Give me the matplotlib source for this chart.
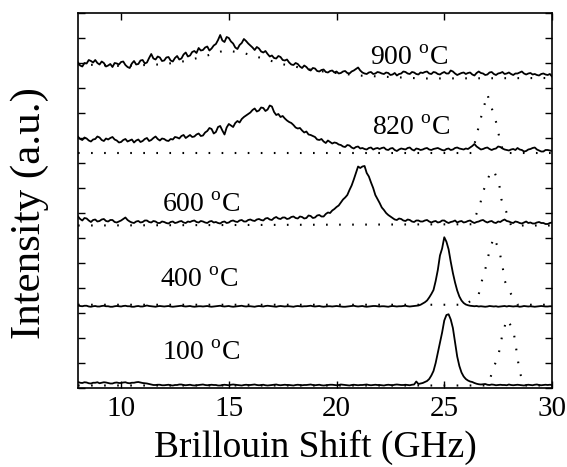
import numpy as np
import matplotlib
matplotlib.use("Agg")
import matplotlib.pyplot as plt

plt.rcParams['font.family'] = ['Liberation Serif', 'DejaVu Serif']
plt.rcParams['mathtext.fontset'] = 'custom'
plt.rcParams['mathtext.rm'] = 'Liberation Serif'
plt.rcParams['lines.scale_dashes'] = False

# Brillouin shift grid (GHz) for the measured spectra
shift = np.round(np.arange(8.0, 30.001, 0.1), 1)

# measured spectra (solid), already offset vertically
s900 = [13.02, 12.90, 12.86, 13.00, 12.98, 13.12, 13.08, 13.02, 13.12, 13.00, 12.94, 13.06, 13.00, 12.86, 12.90, 12.96, 12.84, 13.00, 12.98, 12.94,
        13.04, 13.06, 12.92, 12.84, 12.80, 12.98, 13.08, 12.94, 12.96, 13.10, 13.12, 12.98, 13.02, 13.20, 13.36, 13.18, 13.14, 13.26, 13.22, 13.08,
        13.10, 13.22, 13.24, 13.10, 13.06, 13.20, 13.28, 13.14, 13.18, 13.34, 13.42, 13.26, 13.30, 13.44, 13.48, 13.40, 13.60, 13.50, 13.52, 13.62,
        13.66, 13.50, 13.58, 13.70, 13.76, 13.92, 14.12, 13.90, 13.84, 14.04, 14.00, 13.86, 13.78, 13.62, 13.56, 13.72, 13.80, 13.96, 13.88, 13.78,
        13.70, 13.62, 13.52, 13.64, 13.58, 13.46, 13.42, 13.48, 13.36, 13.26, 13.30, 13.20, 13.18, 13.28, 13.24, 13.12, 13.10, 13.14, 13.02, 12.94,
        12.92, 13.00, 12.96, 12.86, 12.80, 12.90, 12.84, 12.74, 12.70, 12.80, 12.78, 12.68, 12.66, 12.72, 12.74, 12.64, 12.62, 12.68, 12.70, 12.62,
        12.66, 12.58, 12.60, 12.66, 12.68, 12.60, 12.58, 12.66, 12.70, 12.76, 12.82, 12.70, 12.62, 12.58, 12.56, 12.62, 12.64, 12.56, 12.58, 12.64,
        12.62, 12.58, 12.56, 12.62, 12.60, 12.52, 12.54, 12.60, 12.50, 12.56, 12.58, 12.66, 12.64, 12.58, 12.56, 12.64, 12.62, 12.56, 12.54, 12.62,
        12.60, 12.64, 12.66, 12.58, 12.56, 12.64, 12.62, 12.56, 12.54, 12.60, 12.64, 12.58, 12.58, 12.70, 12.66, 12.58, 12.52, 12.56, 12.60, 12.62,
        12.56, 12.60, 12.62, 12.54, 12.50, 12.60, 12.66, 12.60, 12.58, 12.52, 12.54, 12.62, 12.64, 12.56, 12.52, 12.58, 12.60, 12.64, 12.56, 12.58,
        12.62, 12.56, 12.52, 12.58, 12.58, 12.62, 12.66, 12.58, 12.54, 12.58, 12.60, 12.54, 12.56, 12.52, 12.50, 12.56, 12.58, 12.54, 12.52, 12.56,
        12.46]
s820 = [10.05, 9.96, 9.92, 10.02, 9.98, 9.90, 9.86, 9.94, 9.96, 10.06, 10.02, 9.92, 9.88, 9.98, 9.94, 10.00, 10.04, 9.94, 9.90, 9.82,
        9.84, 9.92, 9.96, 9.86, 9.90, 9.94, 9.82, 9.90, 9.94, 9.84, 9.88, 9.96, 10.00, 9.88, 9.92, 10.00, 10.06, 9.96, 9.90, 9.98,
        9.96, 9.90, 9.88, 9.96, 9.94, 10.04, 10.02, 9.98, 10.08, 10.12, 10.00, 10.06, 10.12, 10.04, 10.06, 10.14, 10.18, 10.08, 10.10, 10.22,
        10.28, 10.40, 10.36, 10.18, 10.24, 10.44, 10.48, 10.30, 10.14, 10.42, 10.56, 10.50, 10.44, 10.60, 10.68, 10.62, 10.76, 10.84, 10.90, 10.96,
        11.02, 11.12, 11.18, 11.06, 11.10, 11.22, 11.20, 11.08, 11.14, 11.30, 11.26, 11.04, 10.92, 10.96, 10.84, 10.88, 10.78, 10.70, 10.64, 10.60,
        10.52, 10.42, 10.38, 10.40, 10.30, 10.22, 10.26, 10.14, 10.12, 10.08, 10.04, 9.94, 9.92, 9.96, 9.86, 9.80, 9.90, 9.84, 9.78, 9.82,
        9.80, 9.74, 9.72, 9.66, 9.64, 9.72, 9.70, 9.62, 9.58, 9.64, 9.66, 9.58, 9.60, 9.56, 9.54, 9.60, 9.62, 9.54, 9.58, 9.60,
        9.56, 9.60, 9.62, 9.54, 9.52, 9.58, 9.60, 9.52, 9.48, 9.54, 9.58, 9.56, 9.54, 9.60, 9.62, 9.54, 9.50, 9.58, 9.56, 9.52,
        9.54, 9.58, 9.60, 9.54, 9.52, 9.56, 9.58, 9.60, 9.56, 9.52, 9.50, 9.56, 9.58, 9.52, 9.54, 9.60, 9.62, 9.58, 9.56, 9.54,
        9.58, 9.56, 9.62, 9.68, 9.76, 9.66, 9.60, 9.54, 9.56, 9.60, 9.62, 9.56, 9.52, 9.56, 9.58, 9.66, 9.64, 9.58, 9.54, 9.52,
        9.50, 9.54, 9.56, 9.52, 9.60, 9.54, 9.52, 9.46, 9.48, 9.54, 9.56, 9.60, 9.62, 9.54, 9.50, 9.46, 9.46, 9.52, 9.52, 9.50,
        9.48]
s600 = [6.86, 6.76, 6.70, 6.80, 6.78, 6.70, 6.64, 6.72, 6.74, 6.66, 6.68, 6.74, 6.76, 6.68, 6.66, 6.72, 6.72, 6.64, 6.62, 6.66,
        6.70, 6.76, 6.82, 6.72, 6.66, 6.62, 6.60, 6.66, 6.68, 6.62, 6.64, 6.70, 6.70, 6.64, 6.62, 6.68, 6.66, 6.60, 6.60, 6.66,
        6.64, 6.60, 6.58, 6.64, 6.66, 6.60, 6.62, 6.66, 6.68, 6.62, 6.60, 6.66, 6.64, 6.68, 6.70, 6.64, 6.62, 6.68, 6.66, 6.62,
        6.60, 6.66, 6.68, 6.62, 6.64, 6.60, 6.58, 6.64, 6.66, 6.60, 6.62, 6.68, 6.70, 6.66, 6.64, 6.70, 6.72, 6.66, 6.66, 6.72,
        6.74, 6.70, 6.68, 6.74, 6.76, 6.72, 6.70, 6.78, 6.80, 6.74, 6.72, 6.80, 6.84, 6.78, 6.76, 6.82, 6.82, 6.76, 6.78, 6.84,
        6.86, 6.80, 6.78, 6.86, 6.84, 6.78, 6.80, 6.90, 6.88, 6.80, 6.82, 6.90, 6.92, 6.86, 6.86, 6.96, 7.02, 7.00, 7.10, 7.16,
        7.24, 7.30, 7.42, 7.54, 7.62, 7.72, 7.92, 8.10, 8.34, 8.60, 8.86, 8.80, 8.86, 8.88, 8.60, 8.46, 8.22, 8.00, 7.72, 7.56,
        7.40, 7.22, 7.12, 7.00, 6.92, 6.86, 6.80, 6.74, 6.72, 6.78, 6.76, 6.70, 6.68, 6.74, 6.72, 6.66, 6.64, 6.70, 6.70, 6.66,
        6.66, 6.70, 6.72, 6.66, 6.62, 6.66, 6.68, 6.62, 6.64, 6.70, 6.70, 6.64, 6.60, 6.64, 6.66, 6.70, 6.62, 6.66, 6.68, 6.62,
        6.64, 6.68, 6.70, 6.64, 6.60, 6.64, 6.66, 6.70, 6.72, 6.66, 6.62, 6.66, 6.68, 6.62, 6.60, 6.66, 6.64, 6.70, 6.74, 6.68,
        6.66, 6.62, 6.60, 6.66, 6.64, 6.60, 6.58, 6.62, 6.66, 6.60, 6.62, 6.58, 6.58, 6.62, 6.64, 6.60, 6.60, 6.56, 6.56, 6.60,
        6.62]
s400 = [3.30, 3.28, 3.27, 3.29, 3.29, 3.26, 3.25, 3.27, 3.28, 3.26, 3.26, 3.28, 3.29, 3.27, 3.27, 3.25, 3.25, 3.27, 3.28, 3.27,
        3.26, 3.28, 3.29, 3.27, 3.27, 3.25, 3.25, 3.27, 3.28, 3.26, 3.26, 3.28, 3.30, 3.28, 3.27, 3.26, 3.25, 3.27, 3.28, 3.27,
        3.26, 3.27, 3.28, 3.26, 3.25, 3.26, 3.27, 3.28, 3.29, 3.27, 3.26, 3.27, 3.28, 3.26, 3.25, 3.26, 3.27, 3.27, 3.26, 3.27,
        3.28, 3.26, 3.25, 3.26, 3.27, 3.28, 3.29, 3.27, 3.26, 3.27, 3.28, 3.26, 3.25, 3.26, 3.27, 3.28, 3.29, 3.27, 3.26, 3.27,
        3.27, 3.26, 3.25, 3.27, 3.28, 3.27, 3.26, 3.28, 3.29, 3.28, 3.27, 3.26, 3.25, 3.27, 3.28, 3.27, 3.26, 3.27, 3.27, 3.26,
        3.25, 3.27, 3.28, 3.27, 3.26, 3.27, 3.27, 3.28, 3.29, 3.27, 3.26, 3.27, 3.28, 3.26, 3.25, 3.26, 3.27, 3.27, 3.26, 3.27,
        3.28, 3.27, 3.26, 3.25, 3.25, 3.26, 3.27, 3.28, 3.29, 3.27, 3.26, 3.27, 3.28, 3.26, 3.25, 3.26, 3.27, 3.28, 3.28, 3.27,
        3.26, 3.27, 3.27, 3.26, 3.25, 3.27, 3.28, 3.27, 3.26, 3.27, 3.27, 3.28, 3.29, 3.27, 3.26, 3.27, 3.28, 3.29, 3.30, 3.33,
        3.38, 3.43, 3.50, 3.62, 3.76, 3.92, 4.28, 4.72, 5.30, 5.58, 6.03, 5.85, 5.55, 5.05, 4.60, 4.22, 3.90, 3.66, 3.50, 3.40,
        3.34, 3.31, 3.29, 3.28, 3.27, 3.28, 3.26, 3.27, 3.26, 3.25, 3.26, 3.28, 3.27, 3.26, 3.27, 3.25, 3.26, 3.27, 3.28, 3.26,
        3.28, 3.27, 3.26, 3.27, 3.27, 3.25, 3.26, 3.28, 3.27, 3.26, 3.27, 3.26, 3.25, 3.26, 3.27, 3.28, 3.27, 3.26, 3.26, 3.27,
        3.27]
s100 = [0.24, 0.21, 0.20, 0.23, 0.22, 0.19, 0.18, 0.21, 0.21, 0.23, 0.19, 0.21, 0.23, 0.22, 0.20, 0.18, 0.18, 0.21, 0.22, 0.20,
        0.20, 0.22, 0.23, 0.20, 0.19, 0.21, 0.21, 0.23, 0.24, 0.22, 0.20, 0.19, 0.18, 0.16, 0.14, 0.12, 0.12, 0.13, 0.13, 0.11,
        0.11, 0.12, 0.13, 0.11, 0.10, 0.12, 0.12, 0.14, 0.14, 0.12, 0.11, 0.12, 0.13, 0.11, 0.10, 0.11, 0.12, 0.13, 0.14, 0.12,
        0.11, 0.12, 0.13, 0.12, 0.12, 0.10, 0.10, 0.12, 0.13, 0.12, 0.11, 0.13, 0.14, 0.13, 0.12, 0.11, 0.10, 0.12, 0.13, 0.12,
        0.12, 0.13, 0.14, 0.12, 0.11, 0.12, 0.13, 0.11, 0.10, 0.11, 0.12, 0.13, 0.14, 0.12, 0.11, 0.12, 0.13, 0.12, 0.12, 0.11,
        0.10, 0.12, 0.13, 0.12, 0.11, 0.12, 0.12, 0.13, 0.14, 0.12, 0.11, 0.12, 0.13, 0.11, 0.10, 0.11, 0.12, 0.13, 0.13, 0.12,
        0.11, 0.12, 0.14, 0.13, 0.12, 0.11, 0.10, 0.12, 0.13, 0.12, 0.11, 0.12, 0.12, 0.13, 0.14, 0.12, 0.11, 0.12, 0.13, 0.12,
        0.12, 0.11, 0.10, 0.12, 0.13, 0.12, 0.11, 0.13, 0.14, 0.13, 0.12, 0.12, 0.13, 0.12, 0.11, 0.13, 0.14, 0.26, 0.16, 0.18,
        0.20, 0.24, 0.28, 0.36, 0.50, 0.68, 1.00, 1.40, 1.82, 2.22, 2.70, 2.92, 2.95, 2.74, 2.40, 1.82, 1.26, 0.88, 0.62, 0.46,
        0.36, 0.30, 0.26, 0.24, 0.20, 0.17, 0.15, 0.14, 0.15, 0.16, 0.13, 0.12, 0.14, 0.13, 0.11, 0.12, 0.13, 0.12, 0.12, 0.11,
        0.14, 0.12, 0.11, 0.12, 0.13, 0.12, 0.11, 0.10, 0.12, 0.13, 0.12, 0.11, 0.13, 0.14, 0.12, 0.11, 0.12, 0.13, 0.12, 0.13,
        0.12]

# reference spectra (dotted)
d900_x = [8, 10, 12, 13, 14, 14.8, 15.6, 16.5, 17.5, 19, 21, 24, 30]
d900_y = [12.95, 12.88, 12.95, 13.08, 13.3, 13.5, 13.42, 13.2, 12.95, 12.7, 12.5, 12.38, 12.4]
d820_x = [8, 26.3, 26.5, 26.65, 27.0, 27.4, 27.55, 27.75, 30]
d820_y = [9.4, 9.4, 10.1, 10.65, 11.75, 10.65, 10.05, 9.4, 9.4]
d600_x = [8, 26.3, 26.65, 26.8, 27.0, 27.15, 27.3, 27.55, 27.65, 27.9, 28.1, 30]
d600_y = [6.5, 6.55, 7.3, 7.85, 8.3, 8.65, 8.7, 8.15, 7.55, 7.0, 6.5, 6.5]
d400_x = [8, 26.0, 26.6, 26.75, 26.95, 27.1, 27.3, 27.55, 27.7, 27.8, 28.0, 28.4, 30]
d400_y = [3.33, 3.33, 3.75, 4.3, 4.9, 5.5, 6.03, 5.5, 4.9, 4.3, 3.9, 3.33, 3.33]
d100_x = [8, 26.9, 27.1, 27.3, 27.5, 27.7, 27.9, 28.2, 28.3, 28.4, 28.5, 28.7, 30]
d100_y = [0.1, 0.1, 0.3, 0.85, 1.25, 2.15, 2.75, 2.35, 1.8, 1.2, 0.65, 0.1, 0.1]

temps = ['900', '820', '600', '400', '100']
label_x = [21.55, 21.65, 11.9, 11.8, 11.9]
label_y = [12.92, 10.12, 7.04, 4.04, 1.12]

fig = plt.figure(figsize=(5.67, 4.67), dpi=100)
ax = fig.add_axes([78 / 567, 1 - 388 / 467, 474 / 567, 375 / 467])

for s in [s900, s820, s600, s400, s100]:
    ax.plot(shift, s, color='black', lw=1.3)
for dx, dy in [(d900_x, d900_y), (d820_x, d820_y), (d600_x, d600_y),
               (d400_x, d400_y), (d100_x, d100_y)]:
    ax.plot(dx, dy, color='black', lw=1.5, linestyle=(0, (1.2, 8.2)),
            dash_capstyle='butt')

for t, lx, ly in zip(temps, label_x, label_y):
    ax.text(lx, ly, t + r' $^{\rm o}$C', fontsize=20, ha='left', va='baseline')

ax.set_xlim(8, 30)
ax.set_ylim(0, 15)
ax.set_xticks([10, 15, 20, 25, 30])
ax.set_yticks(np.arange(0, 16, 1))
ax.set_yticklabels([])
ax.tick_params(direction='in', top=True, right=True, length=5, width=1,
               labelsize=21, pad=6)
for sp in ax.spines.values():
    sp.set_linewidth(1.2)

ax.set_xlabel('Brillouin Shift (GHz)', fontsize=27, labelpad=5)
ax.set_ylabel('Intensity (a.u.)', fontsize=31)
ax.yaxis.set_label_coords(-0.061, 0.467)

fig.savefig('out.png', dpi=100)
